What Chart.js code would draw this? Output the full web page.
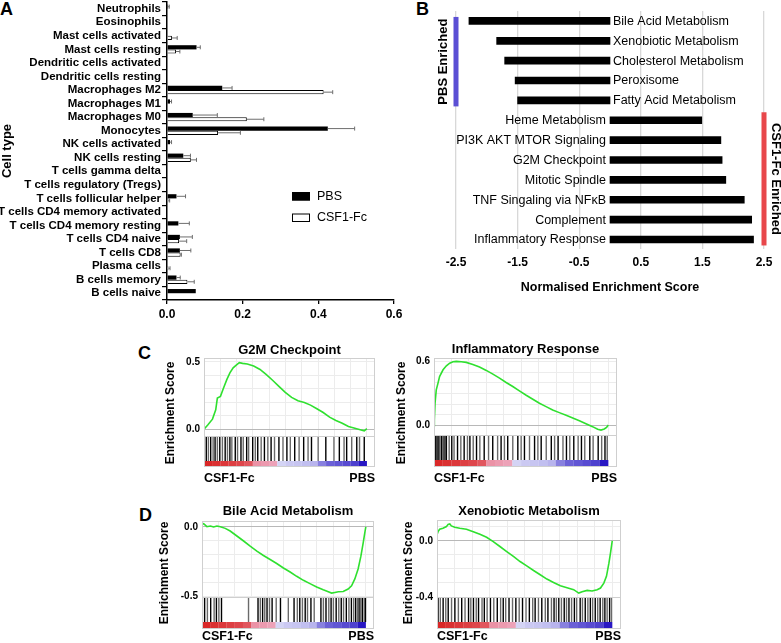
<!doctype html>
<html lang="en">
<head>
<meta charset="utf-8">
<title>cell types and enrichment</title>
<style>
  body { margin: 0; background: #fff; }
  #fig { position: relative; width: 781px; height: 643px; overflow: hidden; font-family: 'Liberation Sans', Arial, sans-serif; }
  #fig canvas { position: absolute; }
  .tag { position: absolute; font-weight: bold; font-size: 18px; line-height: 18px; }
</style>
</head>
<body>
<div id="fig">
  <div class="tag" style="left:0;top:0">A</div>
  <div class="tag" style="left:416px;top:0">B</div>
  <div class="tag" style="left:138px;top:344px">C</div>
  <div class="tag" style="left:139px;top:506px">D</div>
</div>

<script src="https://cdn.jsdelivr.net/npm/chart.js@4.4.1/dist/chart.umd.min.js"></script>
<script>
// ---- panel A: cell type fractions
const cellTypes = ['Neutrophils', 'Eosinophils', 'Mast cells activated', 'Mast cells resting',
  'Dendritic cells activated', 'Dendritic cells resting', 'Macrophages M2', 'Macrophages M1',
  'Macrophages M0', 'Monocytes', 'NK cells activated', 'NK cells resting', 'T cells gamma delta',
  'T cells regulatory (Tregs)', 'T cells follicular helper', 'T cells CD4 memory activated',
  'T cells CD4 memory resting', 'T cells CD4 naive', 'T cells CD8', 'Plasma cells',
  'B cells memory', 'B cells naive'];
const pbsMean = [0.003, 0, 0, 0.078, 0, 0, 0.146, 0.008, 0.068, 0.425, 0.008, 0.043, 0, 0, 0.025, 0, 0.030, 0.034, 0.034, 0, 0.025, 0.076];
const pbsErr  = [0.003, 0, 0, 0.010, 0, 0, 0.026, 0.004, 0.065, 0.071, 0.004, 0.019, 0, 0, 0.024, 0, 0.029, 0.033, 0.029, 0, 0.010, 0];
const csfMean = [0, 0, 0.013, 0.024, 0.002, 0, 0.414, 0.002, 0.211, 0.135, 0, 0.063, 0, 0, 0.004, 0, 0, 0.032, 0.036, 0.004, 0.054, 0];
const csfErr  = [0, 0, 0.014, 0.010, 0, 0, 0.024, 0, 0.045, 0.059, 0, 0.015, 0, 0, 0.003, 0, 0, 0.020, 0.002, 0.004, 0.018, 0];

// ---- panel B: normalised enrichment scores
const pathways = ['Bile Acid Metabolism', 'Xenobiotic Metabolism', 'Cholesterol Metabolism', 'Peroxisome',
  'Fatty Acid Metabolism', 'Heme Metabolism', 'PI3K AKT MTOR Signaling', 'G2M Checkpoint',
  'Mitotic Spindle', 'TNF Singaling via NF\u03baB', 'Complement', 'Inflammatory Response'];
const nes = [-2.29, -1.84, -1.71, -1.54, -1.50, 1.49, 1.80, 1.82, 1.88, 2.18, 2.30, 2.33];
const nesTicks = [-2.5, -1.5, -0.5, 0.5, 1.5, 2.5];

// ---- panels C, D: running enrichment scores (rank in % of list)
const g2mRank = [0, 2.3, 5.2, 7.2, 8.2, 10.1, 12.0, 14.0, 15.9, 17.9, 19.8, 21.7, 23.7, 26.6, 30.5, 34.4, 38.3, 42.1, 46.0, 49.9, 53.8, 57.7, 61.6, 65.4, 69.3, 73.2, 77.1, 81.0, 84.9, 88.7, 92.6, 96.5, 98.4, 100];
const g2mES   = [0, 0.032, 0.075, 0.144, 0.231, 0.244, 0.306, 0.368, 0.418, 0.455, 0.475, 0.493, 0.488, 0.483, 0.468, 0.443, 0.405, 0.363, 0.318, 0.274, 0.236, 0.211, 0.199, 0.179, 0.152, 0.124, 0.090, 0.065, 0.045, 0.020, 0.007, -0.005, -0.012, 0.005];
const g2mHits = [1.4, 2.7, 4.1, 5.6, 6.8, 8.2, 9.7, 11.3, 13.0, 14.4, 15.9, 17.1, 19.2, 20.6, 22.7, 24.1, 26.2, 27.4, 29.9, 31.5, 33.0, 35.1, 37.1, 39.2, 41.2, 43.3, 46.0, 48.5, 50.9, 53.0, 55.7, 58.4, 61.2, 63.9, 66.0, 70.1, 74.8, 79.8, 83.1, 86.0, 87.6, 90.7, 93.8, 95.5, 98.4];

const inflamRank = [0, 0.2, 0.6, 1.3, 2.3, 3.2, 5.2, 7.1, 9.0, 10.9, 12.8, 15.6, 18.5, 22.3, 26.1, 30.0, 33.8, 37.6, 41.4, 45.2, 49.0, 52.9, 56.7, 60.5, 64.3, 68.1, 71.9, 75.8, 79.6, 83.4, 87.2, 91.0, 93.9, 95.8, 97.7, 99.0, 100];
const inflamES   = [0, 0.053, 0.209, 0.334, 0.397, 0.459, 0.522, 0.559, 0.584, 0.597, 0.600, 0.597, 0.591, 0.572, 0.547, 0.516, 0.481, 0.444, 0.403, 0.366, 0.325, 0.284, 0.247, 0.209, 0.178, 0.147, 0.122, 0.097, 0.072, 0.047, 0.019, -0.009, -0.034, -0.041, -0.031, -0.016, 0.006];
const inflamHits = [0, 0.5, 1.0, 1.5, 1.9, 2.4, 2.9, 3.5, 4.4, 5.0, 5.8, 6.5, 7.1, 8.7, 10.2, 11.5, 13.5, 15.4, 17.3, 19.2, 20.6, 22.5, 24.4, 26.3, 28.8, 31.3, 33.7, 36.5, 38.5, 40.4, 42.3, 45.2, 48.1, 50.0, 51.9, 54.8, 57.7, 59.6, 61.5, 64.4, 67.3, 69.2, 71.2, 74.0, 76.0, 77.9, 80.2, 82.7, 84.6, 86.5, 89.4, 91.3, 94.2, 96.2, 98.1, 99.4];

const bileRank = [0, 1.0, 3.0, 5.1, 7.1, 9.1, 11.2, 14.2, 17.2, 21.3, 25.4, 29.4, 33.5, 37.5, 41.6, 45.6, 49.7, 53.8, 57.8, 61.9, 65.9, 70.0, 74.0, 77.1, 79.1, 81.1, 83.2, 86.2, 89.2, 91.3, 93.3, 95.3, 97.0, 98.4, 99.4, 100];
const bileES   = [0.019, 0.024, 0.002, 0.007, 0, 0.007, 0.002, -0.010, -0.029, -0.065, -0.101, -0.138, -0.174, -0.205, -0.234, -0.263, -0.295, -0.324, -0.355, -0.384, -0.408, -0.432, -0.452, -0.466, -0.476, -0.471, -0.466, -0.464, -0.447, -0.423, -0.374, -0.302, -0.210, -0.114, -0.041, 0];
const bileHits = [1.6, 3.3, 5.3, 7.4, 8.8, 10.3, 11.9, 28.4, 34.2, 35.6, 37.0, 38.3, 39.7, 41.2, 42.8, 45.3, 47.9, 52.7, 56.2, 58.2, 59.7, 61.3, 63.0, 64.4, 66.5, 68.5, 72.6, 74.1, 75.7, 77.4, 78.8, 80.2, 81.9, 83.5, 85.0, 86.4, 88.1, 89.7, 91.2, 92.6, 93.8, 94.9, 95.9, 96.9, 97.9, 99.0, 99.8];

const xenoRank = [0, 0.6, 1.5, 3.4, 5.4, 6.3, 7.3, 8.2, 10.1, 13.0, 16.8, 20.7, 24.5, 28.3, 32.1, 35.9, 39.8, 43.6, 47.4, 51.2, 55.1, 58.9, 62.7, 66.5, 70.4, 74.2, 78.0, 80.9, 82.8, 85.7, 88.5, 91.4, 93.3, 95.2, 96.7, 98.1, 99.0, 100];
const xenoES   = [0.043, 0.066, 0.083, 0.090, 0.102, 0.118, 0.121, 0.107, 0.097, 0.090, 0.083, 0.066, 0.047, 0.026, -0.005, -0.040, -0.076, -0.111, -0.147, -0.178, -0.211, -0.241, -0.272, -0.296, -0.320, -0.334, -0.348, -0.372, -0.362, -0.353, -0.357, -0.348, -0.336, -0.301, -0.253, -0.159, -0.088, 0];
const xenoHits = [0.6, 1.9, 3.5, 5.0, 6.4, 8.3, 10.2, 12.2, 14.1, 16.0, 18.0, 19.3, 20.8, 22.4, 23.7, 25.7, 27.0, 28.6, 30.5, 32.4, 34.4, 36.3, 37.8, 39.2, 41.1, 43.1, 45.0, 46.9, 48.8, 50.8, 52.7, 54.6, 56.0, 57.9, 59.8, 61.8, 63.3, 65.3, 66.8, 68.1, 69.5, 71.0, 72.6, 73.9, 75.3, 76.8, 78.4, 79.7, 81.7, 83.0, 84.6, 86.1, 87.5, 88.8, 90.3, 91.7, 93.1, 94.6, 95.8, 97.1, 98.5, 99.6];

// ranked list metric, one value per 5% bin (positive = CSF1-Fc side)
const metricBins = [2.5, 7.5, 12.5, 17.5, 22.5, 27.5, 32.5, 37.5, 42.5, 47.5, 52.5, 57.5, 62.5, 67.5, 72.5, 77.5, 82.5, 87.5, 92.5, 97.5];
const rankMetric = [1.0, 0.95, 0.9, 0.85, 0.8, 0.7, 0.3, 0.25, 0.2, -0.05, -0.1, -0.12, -0.15, -0.2, -0.45, -0.6, -0.65, -0.7, -0.75, -0.95];
const edgeLabels = ['CSF1-Fc', 'PBS'];
const rankMax = 105;
const rankGrid = [10, 20, 30, 40, 50, 60, 70, 80, 90, 100];

const FONT = "'Liberation Sans', Arial, sans-serif";
Chart.defaults.font.family = FONT;
Chart.defaults.color = '#000';
Chart.defaults.animation = false;
Chart.defaults.responsive = false;
Chart.defaults.events = [];
Chart.defaults.plugins.legend.display = false;
Chart.defaults.plugins.tooltip.enabled = false;

const fig = document.getElementById('fig');
function addCanvas(left, top, w, h) {
  const c = document.createElement('canvas');
  c.width = w; c.height = h;
  c.style.left = left + 'px'; c.style.top = top + 'px';
  fig.appendChild(c);
  return c;
}

function metricColor(v) {
  const a = Math.abs(v);
  const lo = v >= 0 ? [242, 192, 220] : [222, 222, 248];
  const hi = v >= 0 ? [217, 40, 40] : [30, 12, 192];
  return 'rgb(' + lo.map((l, k) => Math.round(l + (hi[k] - l) * a)).join(',') + ')';
}

// error bars for panel A
const errorBars = {
  id: 'errorBars',
  afterDatasetsDraw(chart) {
    const ctx = chart.ctx, xs = chart.scales.x;
    chart.data.datasets.forEach((ds, di) => {
      chart.getDatasetMeta(di).data.forEach((bar, i) => {
        const e = ds.errors[i];
        if (!e) return;
        const x1 = xs.getPixelForValue(ds.data[i] + e);
        ctx.save();
        ctx.strokeStyle = '#6e6e6e';
        ctx.lineWidth = 1;
        ctx.beginPath();
        ctx.moveTo(bar.x, bar.y); ctx.lineTo(x1, bar.y);
        ctx.moveTo(x1, bar.y - 2); ctx.lineTo(x1, bar.y + 2);
        ctx.stroke();
        ctx.restore();
      });
    });
  }
};

const legendA = {
  id: 'legendA',
  afterDraw(chart) {
    const ctx = chart.ctx;
    ctx.save();
    ctx.font = '12.5px ' + FONT;
    ctx.textBaseline = 'middle';
    chart.data.datasets.forEach((ds, i) => {
      const y = 192 + i * 21.5;
      ctx.fillStyle = ds.backgroundColor;
      ctx.fillRect(292, y, 18, 8.5);
      ctx.strokeStyle = '#000';
      ctx.lineWidth = 1;
      ctx.strokeRect(292.5, y + 0.5, 17, 7.5);
      ctx.fillStyle = '#000';
      ctx.fillText(ds.label, 317, y + 4.5);
    });
    ctx.restore();
  }
};

new Chart(addCanvas(0, 0, 410, 330), {
  type: 'bar',
  data: {
    labels: cellTypes,
    datasets: [
      { label: 'PBS', data: pbsMean, errors: pbsErr, backgroundColor: '#000', borderWidth: 0 },
      { label: 'CSF1-Fc', data: csfMean, errors: csfErr, backgroundColor: '#fff', borderColor: '#000',
        borderWidth: c => (c.raw > 0 ? 1 : 0) }
    ]
  },
  options: {
    indexAxis: 'y',
    layout: { padding: { top: 2, right: 16, bottom: 0, left: 0 } },
    datasets: { bar: { barPercentage: 1, categoryPercentage: 0.62 } },
    scales: {
      x: {
        min: 0, max: 0.6,
        ticks: { stepSize: 0.2, callback: v => v.toFixed(1), font: { size: 12, weight: 'bold' }, padding: 3, maxRotation: 0 },
        grid: { drawOnChartArea: false, tickLength: 4, color: '#000', lineWidth: 1.3 },
        border: { color: '#000', width: 1.5 },
        afterFit: s => { s.height = 30; }
      },
      y: {
        ticks: { autoSkip: false, padding: 1, font: { size: 11.5, weight: 'bold' } },
        grid: { drawOnChartArea: false, tickLength: 5, color: '#000', lineWidth: 1.2 },
        border: { color: '#000', width: 1.5 },
        title: { display: true, text: 'Cell type', font: { size: 13, weight: 'bold' }, padding: 0 },
        afterFit: s => { s.width = 167; s.paddingTop = 0; s.paddingBottom = 0; }
      }
    }
  },
  plugins: [errorBars, legendA]
});

// ---- panel B
const nesLabels = {
  id: 'nesLabels',
  afterDatasetsDraw(chart) {
    const { ctx, scales: { x } } = chart;
    const x0 = x.getPixelForValue(0);
    ctx.save();
    ctx.font = '12.5px ' + FONT;
    ctx.fillStyle = '#000';
    ctx.textBaseline = 'middle';
    chart.getDatasetMeta(0).data.forEach((bar, i) => {
      const neg = nes[i] < 0;
      ctx.textAlign = neg ? 'left' : 'right';
      ctx.fillText(pathways[i], neg ? x0 + 3 : x0 - 4, bar.y + 0.5);
    });
    ctx.restore();
  }
};

const enrichBands = {
  id: 'enrichBands',
  afterDraw(chart) {
    const { ctx, scales: { x, y } } = chart;
    const negIdx = nes.map((v, i) => (v < 0 ? i : -1)).filter(i => i >= 0);
    const posIdx = nes.map((v, i) => (v > 0 ? i : -1)).filter(i => i >= 0);
    const band = (idx, padTop, padBot, at, color, text, dir, dx) => {
      const top = y.getPixelForValue(idx[0]) - padTop;
      const bot = y.getPixelForValue(idx[idx.length - 1]) + padBot;
      const cx = x.getPixelForValue(at);
      ctx.fillStyle = color;
      ctx.fillRect(cx - 2.5, top, 5, bot - top);
      ctx.save();
      ctx.translate(cx + dx, (top + bot) / 2);
      ctx.rotate(dir * Math.PI / 2);
      ctx.font = 'bold 13px ' + FONT;
      ctx.fillStyle = '#000';
      ctx.textAlign = 'center';
      ctx.textBaseline = 'middle';
      ctx.fillText(text, 0, 0);
      ctx.restore();
    };
    ctx.save();
    band(negIdx, 4, 6, -2.5, '#5b4fd4', 'PBS Enriched', -1, -13);
    band(posIdx, 8, 6, 2.5, '#e8474b', 'CSF1-Fc Enriched', 1, 12);
    ctx.restore();
  }
};

new Chart(addCanvas(400, 0, 385, 300), {
  type: 'bar',
  data: { labels: pathways, datasets: [{ data: nes, backgroundColor: '#000', barThickness: 7 }] },
  options: {
    indexAxis: 'y',
    layout: { padding: { left: 56, right: 21, top: 11, bottom: 0 } },
    scales: {
      x: {
        min: -2.5, max: 2.5,
        afterBuildTicks: s => { s.ticks = nesTicks.map(v => ({ value: v })); },
        ticks: { callback: v => v.toFixed(1), font: { size: 12, weight: 'bold' }, padding: 6.4, maxRotation: 0, autoSkip: false },
        grid: { color: '#d8d8d8', lineWidth: 1.3, drawTicks: false },
        border: { display: false },
        title: { display: true, text: 'Normalised Enrichment Score', font: { size: 12.5, weight: 'bold' }, padding: { top: 0, bottom: 4.5 } },
        afterFit: s => { s.height = 50.6; }
      },
      y: { display: false }
    }
  },
  plugins: [nesLabels, enrichBands]
});

// ---- panels C, D
const esFrame = {
  id: 'esFrame',
  afterDraw(chart) {
    const { ctx, chartArea: a } = chart;
    ctx.save();
    ctx.strokeStyle = '#cfcfcf';
    ctx.lineWidth = 1;
    ctx.strokeRect(a.left + 0.5, a.top + 0.5, a.right - a.left - 1, a.bottom - a.top);
    ctx.restore();
  }
};
const hitsFrame = {
  id: 'hitsFrame',
  afterDraw(chart) {
    const { ctx, chartArea: a, scales: { yh, yc } } = chart;
    ctx.save();
    ctx.strokeStyle = '#cfcfcf';
    ctx.lineWidth = 1;
    ctx.strokeRect(a.left + 0.5, yh.top + 0.5, a.right - a.left - 1, yc.bottom - yh.top - 1);
    ctx.restore();
  }
};
const sideTitle = {
  id: 'sideTitle',
  afterDraw(chart, args, o) {
    const ctx = chart.ctx;
    ctx.save();
    ctx.translate(o.x, o.y);
    ctx.rotate(-Math.PI / 2);
    ctx.font = 'bold 12px ' + FONT;
    ctx.fillStyle = '#000';
    ctx.textAlign = 'center';
    ctx.textBaseline = 'middle';
    ctx.fillText(o.text, 0, 0);
    ctx.restore();
  }
};

function gsea(p) {
  const cl = p.left - 60, ct = p.esTop - 30;
  const cw = p.right - p.left + 80, ch = p.cbBot + 22 - ct;
  const rightPad = cl + cw - p.right;

  new Chart(addCanvas(cl, ct, cw, ch), {
    type: 'line',
    data: { datasets: [{ data: p.rank.map((x, i) => ({ x, y: p.es[i] })), borderColor: '#2fe02f', borderWidth: 1.6, pointRadius: 0 }] },
    options: {
      layout: { padding: { left: 0, top: 0, right: rightPad, bottom: ct + ch - p.esBot } },
      plugins: {
        title: { display: true, text: p.title, fullSize: false, color: '#000', font: { size: 13, weight: 'bold' }, padding: { top: 14.4 - p.gap, bottom: p.gap } },
        sideTitle: { text: 'Enrichment Score', x: p.sideX - cl, y: p.sideY - ct }
      },
      scales: {
        x: {
          type: 'linear', min: 0, max: rankMax,
          afterBuildTicks: s => { s.ticks = rankGrid.map(v => ({ value: v })); },
          ticks: { display: false },
          grid: { color: '#ececec', drawTicks: false },
          border: { display: false },
          afterFit: s => { s.height = 0; }
        },
        y: {
          min: p.yMin, max: p.yMax,
          afterBuildTicks: s => { s.ticks = p.grid.map(v => ({ value: v })); },
          ticks: { autoSkip: false, padding: 4, font: { size: 10, weight: 'bold' }, callback: v => (p.labelled.includes(v) ? v.toFixed(1) : '') },
          grid: { drawTicks: false, color: c => (c.tick && c.tick.value === 0 ? '#b8b8b8' : '#ececec') },
          border: { display: false },
          afterFit: s => { s.width = p.left - cl; s.paddingTop = 0; s.paddingBottom = 0; }
        }
      }
    },
    plugins: [esFrame, sideTitle]
  });

  new Chart(addCanvas(cl, ct, cw, ch), {
    type: 'scatter',
    data: {
      datasets: [
        { yAxisID: 'yh', data: p.hits.map(x => ({ x, y: 0.5 })), pointStyle: 'line', pointRotation: 90,
          pointRadius: (p.hitBot - p.esBot) / 2, pointBorderWidth: 1.4,
          pointBorderColor: c => (c.dataIndex % 2 ? '#6a6a6a' : '#000') },
        { type: 'bar', yAxisID: 'yc', data: metricBins.map(x => ({ x, y: 1 })),
          backgroundColor: c => metricColor(rankMetric[c.dataIndex]), barPercentage: 1.02, categoryPercentage: 1, borderWidth: 0 }
      ]
    },
    options: {
      layout: { padding: { left: 0, top: p.esBot - ct, right: rightPad, bottom: 0 } },
      scales: {
        x: {
          type: 'linear', min: 0, max: rankMax, offset: false,
          afterBuildTicks: s => { s.ticks = [{ value: 0 }, { value: rankMax }]; },
          ticks: { align: 'inner', autoSkip: false, maxRotation: 0, padding: p.labelGap - 14, font: { size: 12.5, weight: 'bold' }, callback: (v, i) => edgeLabels[i] },
          grid: { display: false, offset: false },
          border: { display: false },
          afterFit: s => { s.height = ct + ch - p.cbBot; }
        },
        yh: {
          type: 'linear', position: 'left', stack: 'gsea', stackWeight: p.hitBot - p.esBot, weight: 2, min: 0, max: 1,
          ticks: { display: false }, grid: { display: false }, border: { display: false },
          afterFit: s => { s.width = p.left - cl; }
        },
        yc: {
          type: 'linear', position: 'left', stack: 'gsea', stackWeight: p.cbBot - p.hitBot, weight: 1, min: 0, max: 1,
          ticks: { display: false }, grid: { display: false }, border: { display: false },
          afterFit: s => { s.width = p.left - cl; }
        }
      }
    },
    plugins: [hitsFrame]
  });
}

gsea({ title: 'G2M Checkpoint', rank: g2mRank, es: g2mES, hits: g2mHits,
  yMin: -0.05, yMax: 0.528, grid: [0, 0.1, 0.2, 0.3, 0.4, 0.5], labelled: [0, 0.5],
  left: 204, right: 375, esTop: 358, esBot: 436, hitBot: 461, cbBot: 467, gap: 0, labelGap: 9.7, sideX: 171, sideY: 413 });
gsea({ title: 'Inflammatory Response', rank: inflamRank, es: inflamES, hits: inflamHits,
  yMin: -0.087, yMax: 0.632, grid: [0, 0.1, 0.2, 0.3, 0.4, 0.5, 0.6], labelled: [0, 0.6],
  left: 434, right: 617, esTop: 358, esBot: 435, hitBot: 460, cbBot: 467, gap: 1, labelGap: 9.7, sideX: 402, sideY: 413 });
gsea({ title: 'Bile Acid Metabolism', rank: bileRank, es: bileES, hits: bileHits,
  yMin: -0.504, yMax: 0.043, grid: [-0.5, -0.4, -0.3, -0.2, -0.1, 0], labelled: [0, -0.5],
  left: 202, right: 374, esTop: 521, esBot: 597, hitBot: 622, cbBot: 629, gap: 1.5, labelGap: 6, sideX: 165, sideY: 573 });
gsea({ title: 'Xenobiotic Metabolism', rank: xenoRank, es: xenoES, hits: xenoHits,
  yMin: -0.4, yMax: 0.149, grid: [-0.4, -0.3, -0.2, -0.1, 0, 0.1], labelled: [0, -0.4],
  left: 437, right: 621, esTop: 520, esBot: 597, hitBot: 622, cbBot: 629, gap: 0.5, labelGap: 6, sideX: 409, sideY: 573 });
</script>
</body>
</html>
